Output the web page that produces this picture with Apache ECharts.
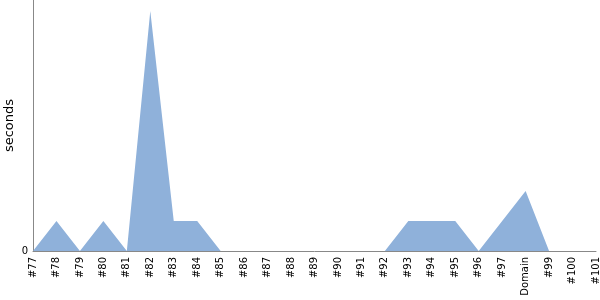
<!DOCTYPE html>
<html><head><meta charset="utf-8">
<script src="https://cdn.jsdelivr.net/npm/echarts@6/dist/echarts.min.js"></script>
<style>html,body{margin:0;padding:0;background:#fff}#c{width:600px;height:300px}</style>
</head><body><div id="c"></div>
<script>
const categories = ['#77','#78','#79','#80','#81','#82','#83','#84','#85','#86','#87','#88','#89','#90','#91','#92','#93','#94','#95','#96','#97','Domain','#99','#100','#101'];
const seconds = [0,1,0,1,0,8,1,1,0,0,0,0,0,0,0,0,1,1,1,0,1,2,0,0,0];
const yMax = 8.37;
const chart = echarts.init(document.getElementById('c'), null, {renderer:'canvas'});
chart.setOption({
  animation:false,
  grid:{left:33,right:4,top:0,bottom:49,containLabel:false,outerBoundsMode:'none'},
  xAxis:{type:'category',data:categories,boundaryGap:false,
    axisLine:{lineStyle:{color:'#888',width:1}},axisTick:{show:false},
    axisLabel:{rotate:90,interval:0,color:'#000',fontFamily:'DejaVu Sans',fontSize:10,margin:6}},
  yAxis:{type:'value',min:0,max:yMax,interval:yMax,name:'seconds',nameLocation:'middle',nameGap:17,nameMoveOverlap:false,
    nameTextStyle:{color:'#000',fontFamily:'DejaVu Sans',fontSize:13},
    splitLine:{show:false},axisLine:{show:true,lineStyle:{color:'#888'}},axisTick:{show:false},
    axisLabel:{color:'#000',fontFamily:'DejaVu Sans',fontSize:10,margin:5,formatter:v=>v===0?'0':''}},
  series:[{type:'line',data:seconds,symbol:'none',lineStyle:{width:0},areaStyle:{color:'#8fb1da',opacity:1}}]
});
</script></body></html>
